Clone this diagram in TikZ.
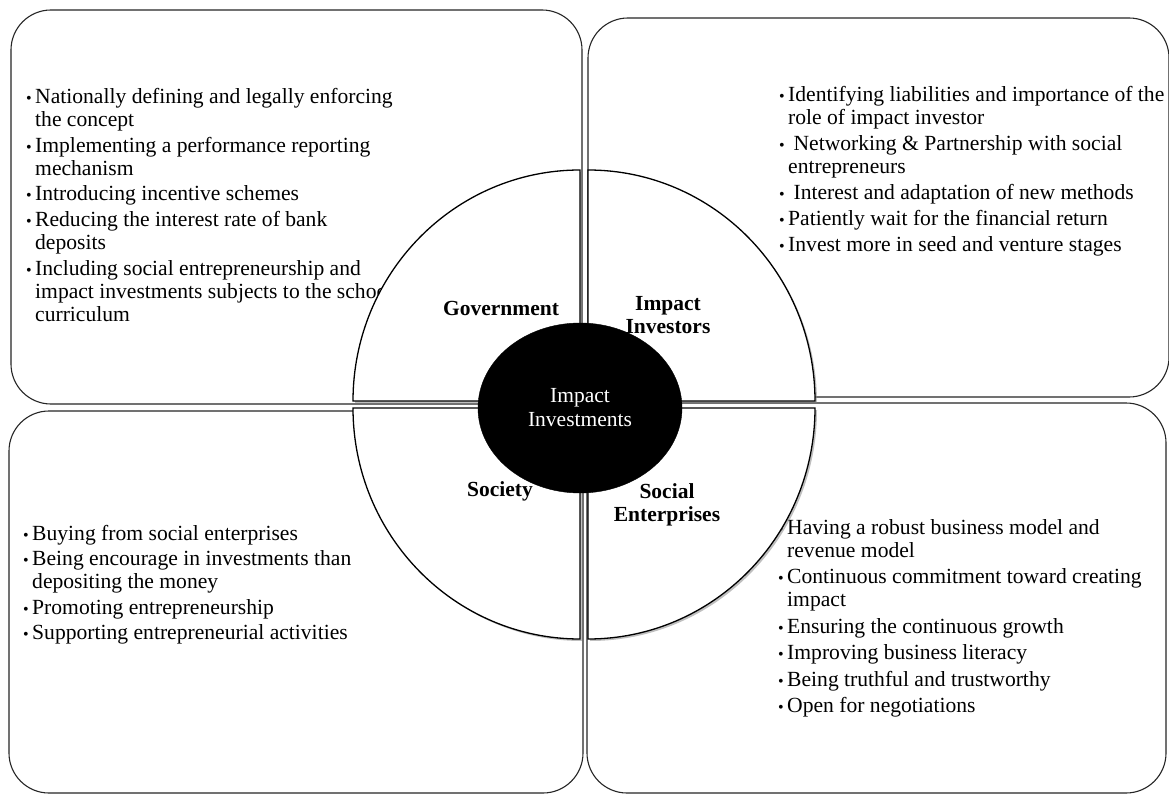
\documentclass[tikz,border=0pt]{standalone}
\usepackage{fontspec}
\setmainfont{Liberation Serif}
\usetikzlibrary{shapes.geometric,shadows}
\newcommand{\bul}{\makebox[9pt][l]{\fontsize{16}{16}\selectfont\textbullet}}
\newcommand{\ind}{\hspace*{9pt}}
\begin{document}
\begin{tikzpicture}[x=1pt,y=-1pt,
  box/.style={draw=black!85, line width=1.1pt, rounded corners=40pt, fill=white},
  sector/.style={draw=black, line width=1.3pt, fill=white,
    drop shadow={shadow xshift=2pt, shadow yshift=-2pt, opacity=0.5}},
  itemtext/.style={align=left, inner sep=0pt, anchor=north west,
    font=\fontsize{21.6}{23}\selectfont},
  lab/.style={font=\bfseries\fontsize{21.5}{23}\selectfont, align=center, inner sep=0pt},
  hub/.style={ellipse, fill=black, draw=black, minimum width=204pt, minimum height=170pt,
    inner sep=0pt, text=white, font=\fontsize{21.5}{24}\selectfont, align=center}]

\useasboundingbox (0,0) rectangle (1169,794);
\fill[white] (0,0) rectangle (1169,794);

% quadrant boxes
\draw[box] (11,10) rectangle (582,404);
\draw[box] (588,18) rectangle (1169,397);
\draw[box] (9,411) rectangle (583,793);
\draw[box] (587,403) rectangle (1166,793);

% bullet texts
\node[itemtext] (tltext) at (26,88) {%
\bul Nationally defining and legally enforcing\\
\ind the concept\\[2.75pt]
\bul Implementing a performance reporting\\
\ind mechanism\\[2.75pt]
\bul Introducing incentive schemes\\[2.75pt]
\bul Reducing the interest rate of bank\\
\ind deposits\\[2.75pt]
\bul Including social entrepreneurship and\\
\ind impact investments subjects to the school\\
\ind curriculum};

\node[itemtext] (trtext) at (779,86) {%
\bul Identifying liabilities and importance of the\\
\ind role of impact investor\\[3pt]
\bul\ Networking \& Partnership with social\\
\ind entrepreneurs\\[3pt]
\bul\ Interest and adaptation of new methods\\[3pt]
\bul Patiently wait for the financial return\\[3pt]
\bul Invest more in seed and venture stages};

\node[itemtext] (bltext) at (23,525) {%
\bul Buying from social enterprises\\[2.5pt]
\bul Being encourage in investments than\\
\ind depositing the money\\[2.5pt]
\bul Promoting entrepreneurship\\[2.5pt]
\bul Supporting entrepreneurial activities};

\node[itemtext] (brtext) at (778,519) {%
\bul Having a robust business model and\\
\ind revenue model\\[3.5pt]
\bul Continuous commitment toward creating\\
\ind impact\\[3.5pt]
\bul Ensuring the continuous growth\\[3.5pt]
\bul Improving business literacy\\[3.5pt]
\bul Being truthful and trustworthy\\[3.5pt]
\bul Open for negotiations};

% circle sectors
\draw[sector] (580,401) -- (353,401) arc[start angle=180, end angle=270, x radius=227, y radius=231] -- cycle;
\draw[sector] (588,401) -- (588,170) arc[start angle=270, end angle=360, x radius=227, y radius=231] -- cycle;
\draw[sector] (588,408) -- (815,408) arc[start angle=0, end angle=90, x radius=227, y radius=231] -- cycle;
\draw[sector] (580,408) -- (580,639) arc[start angle=90, end angle=180, x radius=227, y radius=231] -- cycle;

% sector labels
\node[lab] (gov) at (501,308) {Government};
\node[lab] (inv) at (668,315.5) {Impact\\Investors};
\node[lab] (soc) at (500,491) {Society};
\node[lab] (ent) at (667,504.5) {Social\\Enterprises};

% hub
\node[hub] (hub) at (580,408) {Impact\\Investments};
\end{tikzpicture}
\end{document}
